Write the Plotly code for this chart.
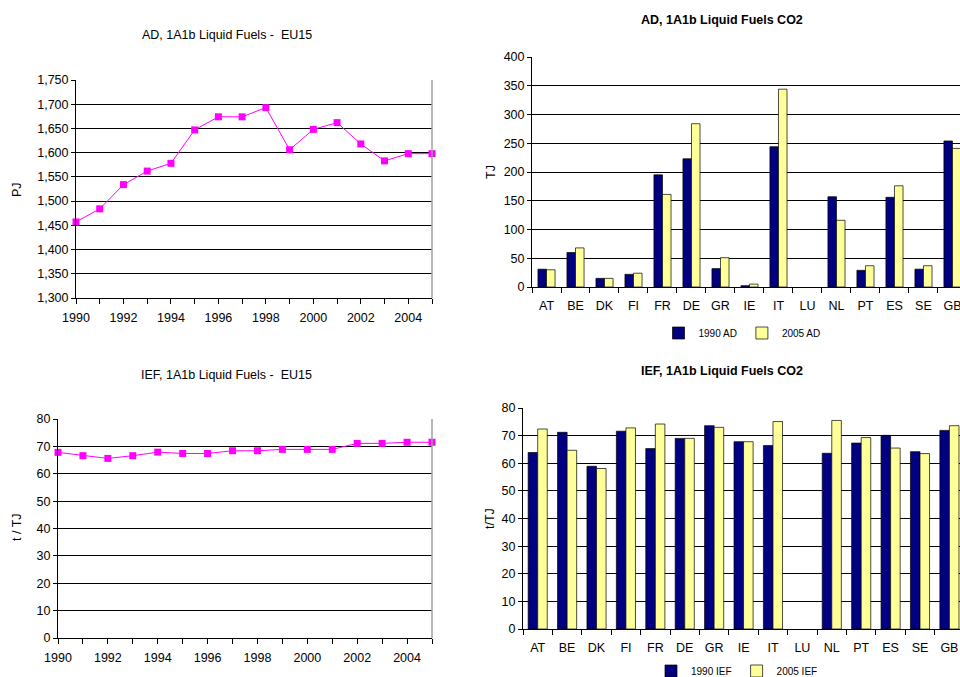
import plotly.graph_objects as go

FONT = "Arial, Liberation Sans, sans-serif"

years = list(range(1990, 2006))
ad_eu15 = [1457, 1484, 1534, 1562, 1578, 1647, 1674, 1674, 1693, 1606, 1648, 1662, 1618, 1583, 1598, 1598]
ief_eu15 = [67.8, 66.6, 65.6, 66.6, 67.9, 67.4, 67.4, 68.4, 68.4, 68.9, 68.9, 68.9, 71.1, 71.1, 71.5, 71.5]

countries = ["AT", "BE", "DK", "FI", "FR", "DE", "GR", "IE", "IT", "LU", "NL", "PT", "ES", "SE", "GB"]
# LU has no data
ad_1990 = [31, 60, 15, 22, 195, 223, 32, 2.3, 244, None, 157, 29, 156, 31, 254]
ad_2005 = [30, 68, 15, 24, 161, 284, 51, 5, 344, None, 116, 37, 176, 37, 241]
ief_1990 = [63.9, 71.2, 58.9, 71.6, 65.3, 69.0, 73.6, 67.8, 66.4, None, 63.6, 67.3, 70.1, 64.2, 71.9]
ief_2005 = [72.4, 64.7, 58.1, 72.8, 74.2, 69.0, 73.0, 67.8, 75.1, None, 75.5, 69.3, 65.5, 63.5, 73.6]

NAVY = "#000080"
PALE = "#FFFF99"
MAGENTA = "#FF00FF"

W, H = 960, 677
FS = 12.5


def px_x(x):
    return x / W


def px_y(y):
    return 1 - y / H


fig = go.Figure()

# line charts (left)
fig.add_trace(go.Scatter(
    x=years, y=ad_eu15, mode="lines+markers", xaxis="x", yaxis="y",
    line=dict(color=MAGENTA, width=1),
    marker=dict(symbol="square", size=7, color=MAGENTA),
    cliponaxis=False, showlegend=False,
))
fig.add_trace(go.Scatter(
    x=years, y=ief_eu15, mode="lines+markers", xaxis="x3", yaxis="y3",
    line=dict(color=MAGENTA, width=1),
    marker=dict(symbol="square", size=7, color=MAGENTA),
    cliponaxis=False, showlegend=False,
))

# bar charts (right): the two panels use slightly different bar widths
bar_line = dict(color="black", width=0.7)
top_w, bot_w = 0.295, 0.325
fig.add_trace(go.Bar(x=countries, y=ad_1990, name="1990 AD", xaxis="x2", yaxis="y2",
                     width=top_w, offset=-top_w,
                     marker=dict(color=NAVY, line=bar_line), legend="legend"))
fig.add_trace(go.Bar(x=countries, y=ad_2005, name="2005 AD", xaxis="x2", yaxis="y2",
                     width=top_w, offset=0,
                     marker=dict(color=PALE, line=bar_line), legend="legend"))
fig.add_trace(go.Bar(x=countries, y=ief_1990, name="1990 IEF", xaxis="x4", yaxis="y4",
                     width=bot_w, offset=-bot_w,
                     marker=dict(color=NAVY, line=bar_line), legend="legend2"))
fig.add_trace(go.Bar(x=countries, y=ief_2005, name="2005 IEF", xaxis="x4", yaxis="y4",
                     width=bot_w, offset=0,
                     marker=dict(color=PALE, line=bar_line), legend="legend2"))

tick_font = dict(family=FONT, size=FS, color="black")
grid = dict(showgrid=True, gridcolor="black", gridwidth=1)
yax_common = dict(showline=True, linecolor="black", linewidth=1, ticks="outside",
                  ticklen=4, tickcolor="black", tickfont=tick_font, zeroline=False, **grid)
year_x = dict(showline=True, linecolor="black", linewidth=1, ticks="outside", ticklen=5,
              tickcolor="black", tickfont=tick_font, showgrid=False, zeroline=False,
              range=[1990, 2005], dtick=2, tick0=1990, ticklabelstandoff=3,
              minor=dict(dtick=1, ticks="outside", ticklen=5, tickcolor="black", showgrid=False))
cat_x = dict(showline=True, linecolor="black", linewidth=1, ticks="outside", ticklen=5,
             tickcolor="black", tickfont=tick_font, showgrid=False, tickson="boundaries",
             type="category", ticklabelstandoff=7)
legend_common = dict(orientation="h", xanchor="center", yanchor="middle",
                     font=dict(family=FONT, size=10), itemwidth=30, tracegroupgap=0)

fig.update_layout(
    width=W, height=H,
    margin=dict(l=0, r=0, t=0, b=0, autoexpand=False),
    paper_bgcolor="white", plot_bgcolor="white",
    font=dict(family=FONT, color="black"),
    barmode="group",
    xaxis=dict(domain=[px_x(76), px_x(432)], anchor="y", **year_x),
    yaxis=dict(domain=[px_y(298), px_y(80)], anchor="x", range=[1300, 1750], dtick=50,
               tickformat=",d", **yax_common),
    xaxis2=dict(domain=[px_x(532), 1.0], anchor="y2", range=[-0.5, 14.26], **cat_x),
    yaxis2=dict(domain=[px_y(287), px_y(57)], anchor="x2", range=[0, 400], dtick=50, **yax_common),
    xaxis3=dict(domain=[px_x(58), px_x(432)], anchor="y3", **year_x),
    yaxis3=dict(domain=[px_y(638), px_y(419)], anchor="x3", range=[0, 80], dtick=10, **yax_common),
    xaxis4=dict(domain=[px_x(523), 1.0], anchor="y4", range=[-0.5, 14.36], **cat_x),
    yaxis4=dict(domain=[px_y(629), px_y(408)], anchor="x4", range=[0, 80], dtick=10, **yax_common),
    legend=dict(x=px_x(742), y=px_y(333), **legend_common),
    legend2=dict(x=px_x(737), y=px_y(671), **legend_common),
)

# grey right border on the line charts
for xa, ya in (("x", "y"), ("x3", "y3")):
    fig.add_shape(type="line", xref=f"{xa} domain", yref=f"{ya} domain",
                  x0=1, x1=1, y0=0, y1=1, line=dict(color="#A0A0A0", width=1.5))

titles = [
    ("AD, 1A1b Liquid Fuels -  EU15", 227, 35, False),
    ("AD, 1A1b Liquid Fuels CO2", 722, 20, True),
    ("IEF, 1A1b Liquid Fuels -  EU15", 226, 375, False),
    ("IEF, 1A1b Liquid Fuels CO2", 722, 371, True),
]
for text, x, y, bold in titles:
    fig.add_annotation(text=f"<b>{text}</b>" if bold else text, xref="paper", yref="paper",
                       x=px_x(x), y=px_y(y), xanchor="center", yanchor="middle",
                       showarrow=False, font=dict(family=FONT, size=FS, color="black"))

ytitles = [("PJ", 17, 190), ("TJ", 491, 172), ("t / TJ", 17, 527), ("t/TJ", 490, 518)]
for text, x, y in ytitles:
    fig.add_annotation(text=text, xref="paper", yref="paper", x=px_x(x), y=px_y(y),
                       xanchor="center", yanchor="middle", showarrow=False, textangle=-90,
                       font=dict(family=FONT, size=FS, color="black"))

# drop the browser's default 8px body margin so the figure fills the window
fig.write_html("out.html", config={"displayModeBar": False},
               post_script="document.body.style.margin = '0';")
